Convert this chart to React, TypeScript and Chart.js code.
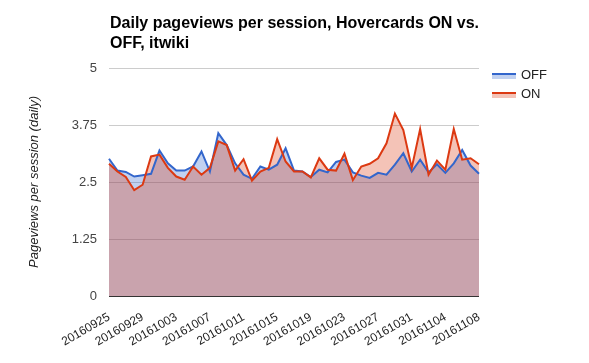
import React, { useEffect, useRef } from "react";
import { Chart, registerables } from "chart.js";

Chart.register(...registerables);

const dates: string[] = [
  "20160925", "20160926", "20160927", "20160928", "20160929", "20160930",
  "20161001", "20161002", "20161003", "20161004", "20161005", "20161006",
  "20161007", "20161008", "20161009", "20161010", "20161011", "20161012",
  "20161013", "20161014", "20161015", "20161016", "20161017", "20161018",
  "20161019", "20161020", "20161021", "20161022", "20161023", "20161024",
  "20161025", "20161026", "20161027", "20161028", "20161029", "20161030",
  "20161031", "20161101", "20161102", "20161103", "20161104", "20161105",
  "20161106", "20161107", "20161108",
];

const offValues: number[] = [
  3.01, 2.75, 2.72, 2.62, 2.65, 2.68, 3.19, 2.91, 2.75, 2.75, 2.84, 3.17,
  2.73, 3.57, 3.31, 2.91, 2.66, 2.57, 2.84, 2.77, 2.88, 3.24, 2.75, 2.73,
  2.61, 2.77, 2.71, 2.94, 2.99, 2.71, 2.64, 2.59, 2.70, 2.66, 2.88, 3.13,
  2.73, 2.99, 2.71, 2.89, 2.70, 2.91, 3.20, 2.86, 2.68,
];

const onValues: number[] = [
  2.90, 2.73, 2.61, 2.32, 2.44, 3.06, 3.10, 2.81, 2.62, 2.55, 2.84, 2.66,
  2.81, 3.39, 3.31, 2.75, 3.00, 2.53, 2.73, 2.81, 3.44, 2.95, 2.73, 2.73,
  2.60, 3.02, 2.77, 2.75, 3.12, 2.54, 2.84, 2.90, 3.02, 3.35, 4.00, 3.64,
  2.81, 3.66, 2.66, 2.97, 2.77, 3.66, 2.99, 3.02, 2.89,
];

const yTicks: number[] = [0, 1.25, 2.5, 3.75, 5];

const titleLines: string[] = ["Daily pageviews per session, Hovercards ON vs.", "OFF, itwiki"];
const yTitle = "Pageviews per session (daily)";
const seriesNames: string[] = ["OFF", "ON"];
const lineColors: string[] = ["#3366cc", "#dc3912"];
const fillColors: string[] = ["rgba(51,102,204,0.3)", "rgba(220,57,18,0.3)"];

const FONT = "Arial, 'Liberation Sans', sans-serif";

const decorPlugin = {
  id: "decor",
  afterDraw(chart: any) {
    const ctx = chart.ctx;
    const area = chart.chartArea;
    ctx.save();
    // Title
    ctx.fillStyle = "#000";
    ctx.font = `bold 16px ${FONT}`;
    ctx.textAlign = "left";
    ctx.textBaseline = "alphabetic";
    titleLines.forEach((t, i) => ctx.fillText(t, area.left + 1, 28 + i * 20));
    // Y title
    ctx.save();
    ctx.translate(38, (area.top + area.bottom) / 2);
    ctx.rotate(-Math.PI / 2);
    ctx.font = `italic 13px ${FONT}`;
    ctx.fillStyle = "#222";
    ctx.textAlign = "center";
    ctx.textBaseline = "alphabetic";
    ctx.fillText(yTitle, 0, 0);
    ctx.restore();
    // Legend
    seriesNames.forEach((name, i) => {
      const y = 74 + i * 19;
      ctx.fillStyle = fillColors[i];
      ctx.fillRect(492, y, 24, 5);
      ctx.fillStyle = lineColors[i];
      ctx.fillRect(492, y - 1, 24, 2);
      ctx.fillStyle = "#222";
      ctx.font = `13px ${FONT}`;
      ctx.textAlign = "left";
      ctx.textBaseline = "middle";
      ctx.fillText(name, 521, y + 1);
    });
    ctx.restore();
  },
};

export default function App() {
  const ref = useRef<HTMLCanvasElement | null>(null);
  useEffect(() => {
    if (!ref.current) return;
    const chart = new Chart(ref.current, {
      type: "line",
      data: {
        labels: dates,
        datasets: [
          {
            label: seriesNames[0],
            data: offValues,
            borderColor: lineColors[0],
            backgroundColor: fillColors[0],
            borderWidth: 2,
            pointRadius: 0,
            fill: "origin",
            tension: 0,
            order: 1,
          },
          {
            label: seriesNames[1],
            data: onValues,
            borderColor: lineColors[1],
            backgroundColor: fillColors[1],
            borderWidth: 2,
            pointRadius: 0,
            fill: "origin",
            tension: 0,
            order: 0,
          },
        ],
      },
      options: {
        animation: false,
        responsive: false,
        layout: { padding: { top: 68, right: 110, left: 0, bottom: 0 } },
        plugins: {
          legend: { display: false },
          title: { display: false },
          tooltip: { enabled: false },
          filler: { drawTime: "beforeDatasetsDraw" },
        },
        scales: {
          x: {
            offset: false,
            grid: { display: false },
            border: { display: false },
            afterFit: (s: any) => { s.height = 67; },
            ticks: {
              autoSkip: false,
              maxRotation: 30,
              minRotation: 30,
              padding: 6,
              color: "#222",
              font: { family: FONT, size: 12 },
              callback: (_v: any, i: number) => (i % 4 === 0 ? dates[i] : ""),
            },
          },
          y: {
            min: 0,
            max: 5,
            afterFit: (s: any) => { s.width = 109; },
            afterBuildTicks: (s: any) => { s.ticks = yTicks.map((v) => ({ value: v })); },
            border: { display: false },
            grid: {
              drawTicks: false,
              color: (c: any) => (c.tick && c.tick.value === 0 ? "#333" : "#cccccc"),
            },
            ticks: {
              padding: 12,
              color: "#444",
              font: { family: FONT, size: 13 },
              callback: (v: any) => String(v),
            },
          },
        },
      },
      plugins: [decorPlugin],
    });
    return () => chart.destroy();
  }, []);
  return (
    <div style={{ position: "fixed", left: 0, top: 0, width: 589, height: 363, background: "#fff" }}>
      <canvas ref={ref} width={589} height={363} />
    </div>
  );
}
